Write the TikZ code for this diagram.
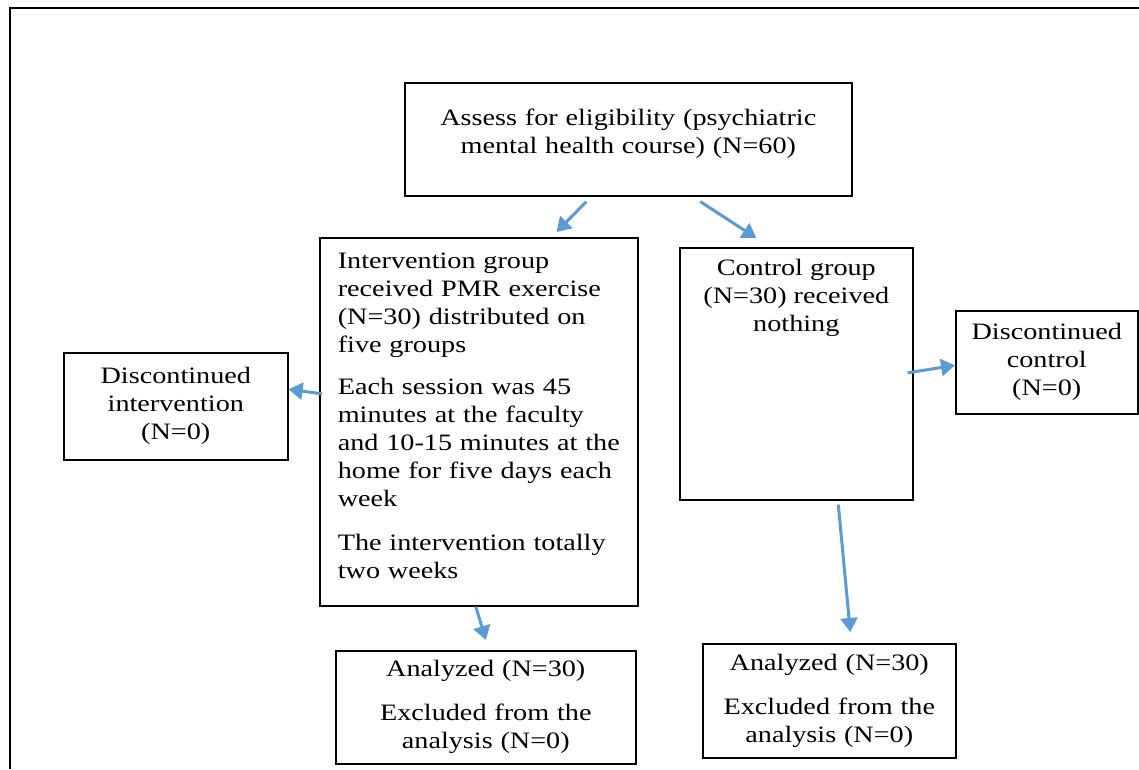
\documentclass[tikz,border=0pt]{standalone}
\usepackage{fontspec}
\setmainfont{Liberation Serif}[FakeStretch=1.2]
\usepackage{tikz}
\usetikzlibrary{arrows.meta,positioning,calc}
\definecolor{flowblue}{RGB}{91,155,213}
\newcommand{\lift}[1]{\rule[-#1]{0pt}{0pt}}

\begin{document}
\begin{tikzpicture}[x=1pt,y=-1pt,
  font=\fontsize{23.5}{28}\selectfont,
  box/.style={draw,line width=1.6pt,inner sep=0pt,anchor=north west,align=center},
  flow/.style={draw=flowblue,line width=3pt,-{Triangle[length=14pt,width=17pt]}}]
\useasboundingbox (0,0) rectangle (1139,769);
\draw[line width=2.6pt] (1139,8) -| (10,769);
% boxes
\node[box,minimum width=447,minimum height=113,text width=400] (assess) at (404,82)
  {Assess for eligibility (psychiatric\\mental health course) (N=60)\lift{16pt}};
\node[box,minimum width=318,minimum height=368,text width=282,align=left] (interv) at (319,237)
  {Intervention group\\received PMR exercise\\(N=30) distributed on\\five groups\\[14pt]
   Each session was 45\\minutes at the faculty\\and 10-15 minutes at the\\home for five days each\\week\\[16pt]
   The intervention totally\\two weeks\lift{12pt}};
\node[box,minimum width=233] (ctrl) at (679,247)
  {\parbox[c][252pt][t]{233pt}{\centering\vspace{11pt}Control group\\(N=30) received\\nothing}};
\node[box,minimum width=224,minimum height=107,text width=210] (discI) at (63,352)
  {Discontinued\\intervention\\(N=0)};
\node[box,minimum width=182,minimum height=103,text width=170] (discC) at (955,310)
  {Discontinued\\control\\(N=0)};
\node[box,minimum width=300,minimum height=113,text width=280] (anaL) at (335,650)
  {Analyzed (N=30)\\[16pt]Excluded from the\\analysis (N=0)};
\node[box,minimum width=253,minimum height=114,text width=240] (anaR) at (702,643)
  {Analyzed (N=30)\\[16pt]Excluded from the\\analysis (N=0)};
% arrows
\draw[flow] ($(assess.south)+(-42,5)$) -- ($(interv.north east)+(-82,-5)$);
\draw[flow] ($(assess.south)+(72,5)$) -- ($(ctrl.north)+(-40,-9)$);
\draw[flow] ($(interv.west)+(3,-28)$) -- ($(discI.east)+(0,-17)$);
\draw[flow] ($(ctrl.east)+(-6,-1)$) -- ($(discC.west)+(0,3)$);
\draw[flow] ($(interv.south)+(-3,0)$) -- ($(anaL.north)+(0,-10)$);
\draw[flow] ($(ctrl.south)+(42,4)$) -- ($(anaR.north)+(21,-11)$);
\end{tikzpicture}
\end{document}
